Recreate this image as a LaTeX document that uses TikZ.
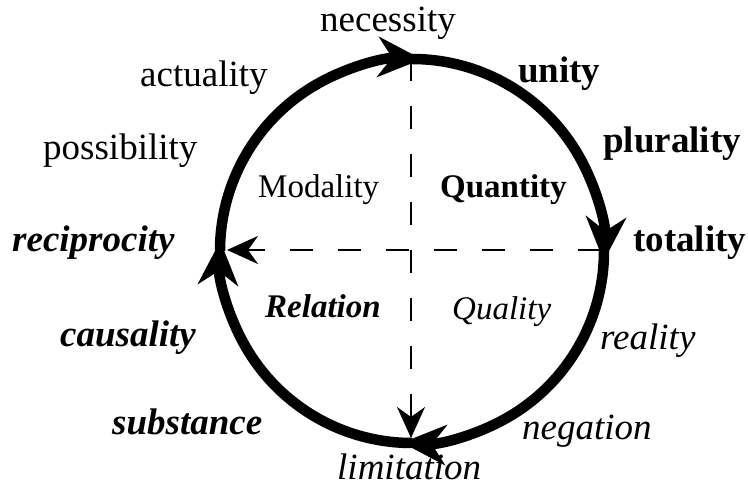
\documentclass[tikz,border=0pt]{standalone}
\usepackage{fontspec}
\setmainfont{Liberation Serif}
\usetikzlibrary{arrows.meta}
\begin{document}
\begin{tikzpicture}[x=1pt,y=1pt,
  big/.style={inner sep=0pt, anchor=base west, font=\fontsize{37}{41}\selectfont},
  small/.style={inner sep=0pt, anchor=base west, font=\fontsize{33}{37}\selectfont},
  ring/.style={line width=10.5pt, -{Stealth[length=44pt,width=40pt,inset=14pt]}},
  axis/.style={line width=2.4pt, dash pattern=on 23pt off 25pt, -{Stealth[length=31pt,width=28pt,inset=10pt]}}]
\useasboundingbox (0,0) rectangle (748,492);
% circle quarter points (center 412,241; r=192)
\coordinate (L) at (220,241);
\coordinate (T) at (412,433);
\coordinate (R) at (604,241);
\coordinate (B) at (412,49);
% dashed axis ends
\coordinate (DT) at (411,434);
\coordinate (DB) at (411,54);
\coordinate (DR) at (601,242);
\coordinate (DL) at (227,242);
\draw[axis] (DT) -- (DB);
\draw[axis] (DR) -- (DL);
\draw[ring] (L) arc[start angle=180, end angle=87, radius=192pt];
\draw[ring] (T) arc[start angle=90, end angle=-3, radius=192pt];
\draw[ring] (R) arc[start angle=0, end angle=-93, radius=192pt];
\draw[ring] (B) arc[start angle=-90, end angle=-183, radius=192pt];
% outer labels
\node[big] (necessity) at (320,460) {necessity};
\node[big] (actuality) at (140,405) {actuality};
\node[big] (unity) at (518,409) {\textbf{unity}};
\node[big] (possibility) at (43,332) {possibility};
\node[big] (plurality) at (603,339) {\textbf{plurality}};
\node[big] (reciprocity) at (12,240) {\textbf{\textit{reciprocity}}};
\node[big] (totality) at (633,240) {\textbf{totality}};
\node[big] (causality) at (60,145) {\textbf{\textit{causality}}};
\node[big] (reality) at (600,142) {\textit{reality}};
\node[big] (substance) at (112,57) {\textbf{\textit{substance}}};
\node[big] (negation) at (522,52) {\textit{negation}};
\node[big] (limitation) at (337,12) {\textit{limitation}};
% inner labels
\node[small] (modality) at (258,294) {Modality};
\node[small] (quantity) at (440,294) {\textbf{Quantity}};
\node[small] (relation) at (265,174) {\textbf{\textit{Relation}}};
\node[small] (quality) at (452,172) {\textit{Quality}};
\end{tikzpicture}
\end{document}
